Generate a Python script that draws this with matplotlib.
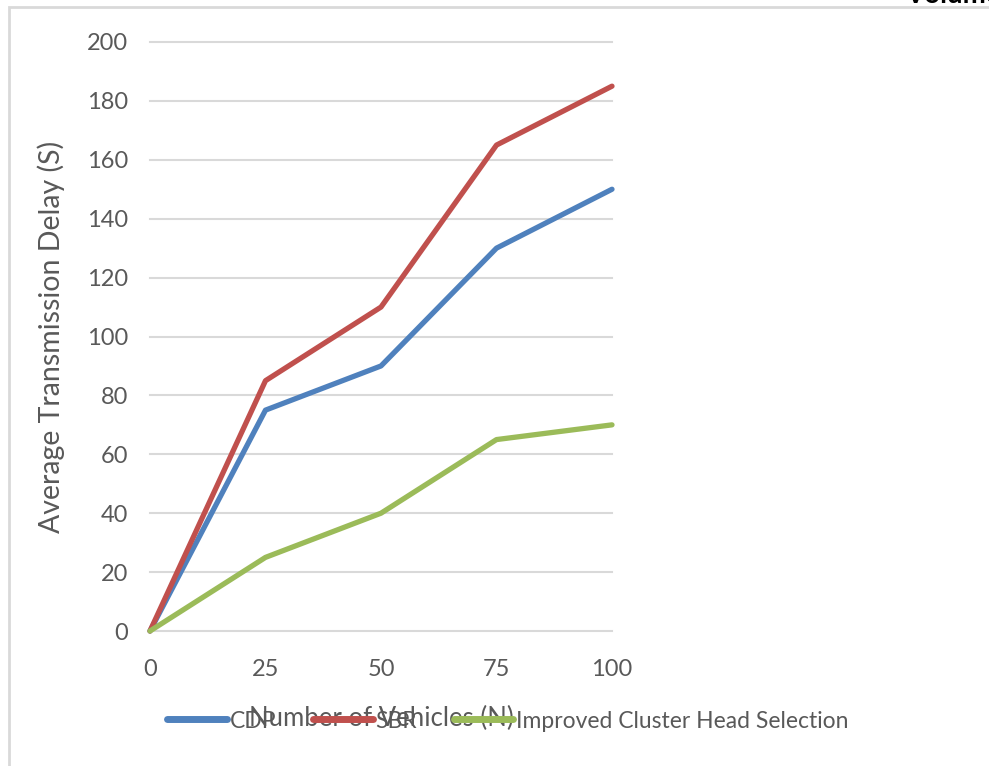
import matplotlib
matplotlib.use("Agg")
import matplotlib.pyplot as plt
import matplotlib.patches as patches

# 数据
vehicles = [0, 25, 50, 75, 100]
cdp_delay = [0, 75, 90, 130, 150]
sbr_delay = [0, 85, 110, 165, 185]
ichs_delay = [0, 25, 40, 65, 70]

series_names = ["CDP", "SBR", "Improved Cluster Head Selection"]
series_colors = ["#4f81bd", "#c0504d", "#9bbb59"]

TEXT_COLOR = "#595959"
GRID_COLOR = "#d9d9d9"

plt.rcParams['font.family'] = ['Lato', 'DejaVu Sans']

fig = plt.figure(figsize=(9.89, 7.66), dpi=100)
ax = fig.add_axes([150 / 989, 1 - 631 / 766, 462 / 989, 589 / 766])

for ys, name, color in zip([cdp_delay, sbr_delay, ichs_delay], series_names, series_colors):
    ax.plot(vehicles, ys, color=color, linewidth=3.8, label=name,
            solid_capstyle='round', clip_on=False, zorder=3)

ax.set_xlim(0, 100)
ax.set_ylim(0, 200)
ax.set_xticks(vehicles)
ax.set_yticks(range(0, 201, 20))
ax.grid(axis='y', color=GRID_COLOR, linewidth=1.5, clip_on=False)
ax.set_axisbelow(True)
for s in ax.spines.values():
    s.set_visible(False)
ax.tick_params(axis='both', length=0, labelsize=17, labelcolor=TEXT_COLOR)
ax.tick_params(axis='x', pad=20)
ax.tick_params(axis='y', pad=16)

ax.set_ylabel("Average Transmission Delay (S)", fontsize=20.5, color=TEXT_COLOR)
ax.yaxis.set_label_coords(-0.183, 0.5)
ax.set_xlabel("Number of Vehicles (N)", fontsize=18.5, color=TEXT_COLOR, va='center')
ax.xaxis.set_label_coords(0.5, -0.148)

leg = fig.legend(loc='center', bbox_to_anchor=(508 / 989, 1 - 721 / 766), ncol=3,
                 frameon=False, fontsize=16.5, handlelength=2.6, handletextpad=0.13,
                 columnspacing=1.6, labelcolor=TEXT_COLOR)
for h in leg.get_lines():
    h.set_linewidth(5)

# 外框
fig.patches.append(patches.Rectangle((9 / 989, -0.1), 1.2, 1 - 7 / 766 + 0.1,
                                     transform=fig.transFigure, fill=False,
                                     edgecolor=GRID_COLOR, linewidth=2))
fig.text(905 / 989, 1 - 3 / 766, "Volume", fontsize=20, fontweight='bold',
         color='black', va='baseline', ha='left')

fig.savefig("out.png", dpi=100)
